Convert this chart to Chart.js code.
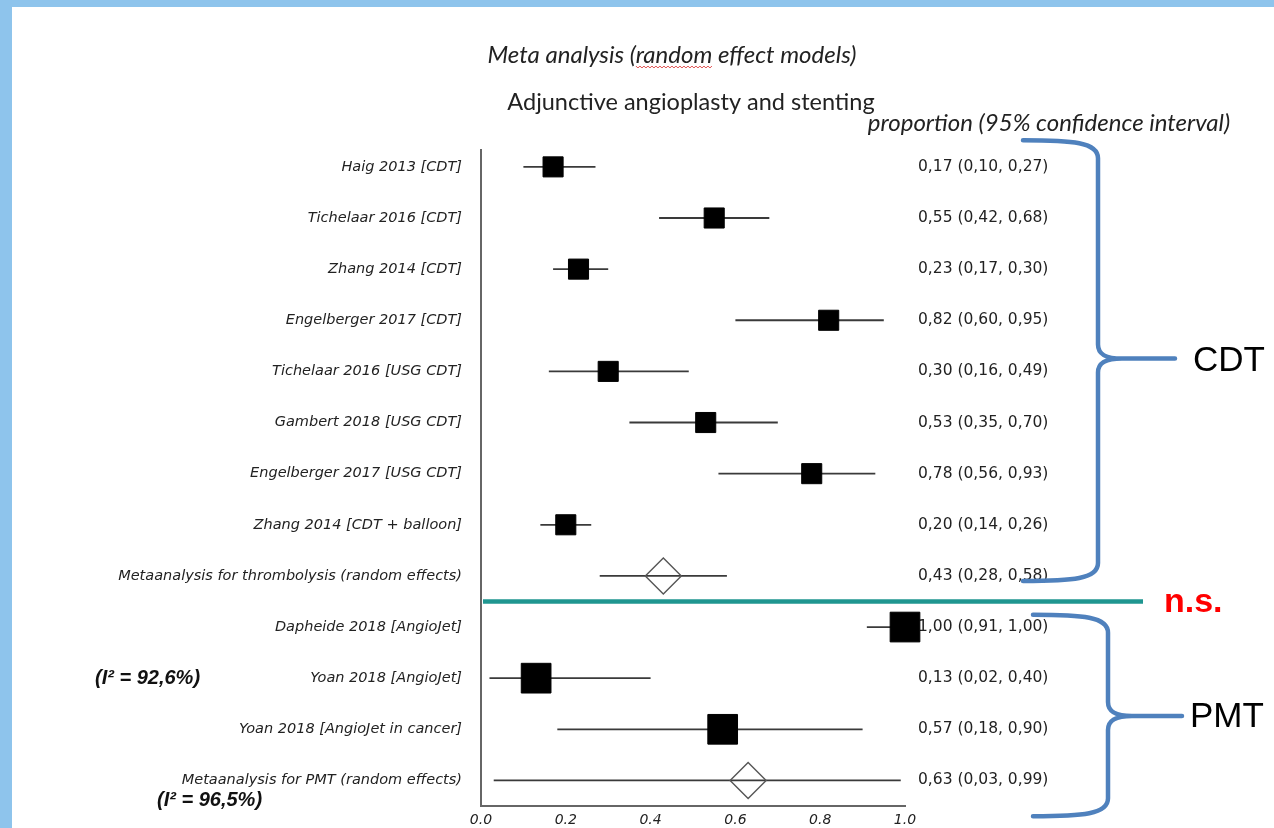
<!DOCTYPE html>
<html>
<head>
<meta charset="utf-8">
<script src="https://cdn.jsdelivr.net/npm/chart.js@4/dist/chart.umd.min.js"></script>
<style>
  html, body { margin: 0; padding: 0; background: #fff; }
  canvas { display: block; }
</style>
</head>
<body>
<canvas id="forest" width="1274" height="828"></canvas>
<script>
// Study rows, top to bottom
const studies = [
  'Haig 2013 [CDT]',
  'Tichelaar 2016 [CDT]',
  'Zhang 2014 [CDT]',
  'Engelberger 2017 [CDT]',
  'Tichelaar 2016 [USG CDT]',
  'Gambert 2018 [USG CDT]',
  'Engelberger 2017 [USG CDT]',
  'Zhang 2014 [CDT + balloon]',
  'Metaanalysis for thrombolysis (random effects)',
  'Dapheide 2018 [AngioJet]',
  'Yoan 2018 [AngioJet]',
  'Yoan 2018 [AngioJet in cancer]',
  'Metaanalysis for PMT (random effects)'
];
// Proportion with 95% confidence interval
const estimates = [0.17, 0.55, 0.23, 0.82, 0.30, 0.53, 0.78, 0.20, 0.43, 1.00, 0.13, 0.57, 0.63];
const lowerCI   = [0.10, 0.42, 0.17, 0.60, 0.16, 0.35, 0.56, 0.14, 0.28, 0.91, 0.02, 0.18, 0.03];
const upperCI   = [0.27, 0.68, 0.30, 0.95, 0.49, 0.70, 0.93, 0.26, 0.58, 1.00, 0.40, 0.90, 0.99];
// Pooled (random effects) rows are drawn as diamonds
const pooled = [false, false, false, false, false, false, false, false, true, false, false, false, true];
const groups = ['CDT', 'CDT', 'CDT', 'CDT', 'CDT', 'CDT', 'CDT', 'CDT', 'CDT', 'PMT', 'PMT', 'PMT', 'PMT'];
const xTicks = [0.0, 0.2, 0.4, 0.6, 0.8, 1.0];
const heterogeneity = ['(I\u00B2 = 92,6%)', '(I\u00B2 = 96,5%)'];

const rows = studies.map((_, i) => i);
const fmt = v => v.toFixed(2).replace('.', ',');
const valueLabels = rows.map(i => `${fmt(estimates[i])} (${fmt(lowerCI[i])}, ${fmt(upperCI[i])})`);

const ciDatasets = rows.map(i => ({
  type: 'scatter',
  data: [{ x: lowerCI[i], y: i }, { x: upperCI[i], y: i }],
  showLine: true,
  borderColor: '#3a3a3a',
  borderWidth: 1.8,
  pointRadius: 0,
  order: 2,
  yAxisID: 'y'
}));

const markerDataset = {
  type: 'scatter',
  data: rows.map(i => ({ x: estimates[i], y: i })),
  pointStyle: rows.map(i => pooled[i] ? 'rectRot' : 'rect'),
  pointRadius: rows.map(i => pooled[i] ? 18 : (groups[i] === 'PMT' ? 21 : 14.2)),
  pointBackgroundColor: rows.map(i => pooled[i] ? 'rgba(0,0,0,0)' : '#000'),
  pointBorderColor: rows.map(i => pooled[i] ? '#555' : '#000'),
  pointBorderWidth: rows.map(i => pooled[i] ? 1.4 : 1),
  showLine: false,
  clip: false,
  order: 1,
  yAxisID: 'y'
};

function drawBrace(ctx, y, b) {
  const top = y.getPixelForValue(b.top);
  const tip = y.getPixelForValue(b.tip);
  const bottom = y.getPixelForValue(b.bottom);
  const s = b.stemX;
  ctx.beginPath();
  ctx.moveTo(b.endX, top);
  ctx.bezierCurveTo(b.endX + 50, top, s, top + 2, s, top + 18);
  ctx.lineTo(s, tip - 14);
  ctx.bezierCurveTo(s, tip - 4, s + 8, tip, s + 24, tip);
  ctx.lineTo(b.tipX, tip);
  ctx.moveTo(s + 24, tip);
  ctx.bezierCurveTo(s + 8, tip, s, tip + 4, s, tip + 14);
  ctx.lineTo(s, bottom - 18);
  ctx.bezierCurveTo(s, bottom - 2, b.endX + 50, bottom, b.endX, bottom);
  ctx.stroke();
}

const decor = {
  id: 'decor',
  beforeDraw(chart) {
    const ctx = chart.ctx;
    ctx.save();
    ctx.fillStyle = '#8ec4ec';
    ctx.fillRect(0, 0, chart.width, chart.height);
    ctx.fillStyle = '#ffffff';
    ctx.fillRect(12, 7, chart.width - 12, chart.height - 7);
    ctx.restore();
  },
  afterDraw(chart) {
    const ctx = chart.ctx;
    const x = chart.scales.x;
    const y = chart.scales.y;
    ctx.save();

    // Headings
    ctx.fillStyle = '#222';
    ctx.textBaseline = 'middle';
    ctx.textAlign = 'center';
    ctx.font = 'italic 24px Lato';
    const title = 'Meta analysis (random effect models)';
    ctx.fillText(title, 672, 55);
    // red spell-check squiggle under "random"
    const tw = ctx.measureText(title).width;
    const sx = 672 - tw / 2 + ctx.measureText('Meta analysis (').width;
    const sw = ctx.measureText('random').width;
    ctx.strokeStyle = '#e05050';
    ctx.lineWidth = 1;
    ctx.beginPath();
    for (let px = 0; px <= sw; px += 2) {
      const py = 67 + ((px / 2) % 2 === 0 ? -1 : 1);
      if (px === 0) ctx.moveTo(sx + px, py); else ctx.lineTo(sx + px, py);
    }
    ctx.stroke();

    ctx.font = '23.5px Lato';
    ctx.fillText('Adjunctive angioplasty and stenting', 691, 102);
    ctx.font = 'italic 24px Lato';
    ctx.fillText('proportion (95% confidence interval)', 1049, 123);

    // Divider between thrombolysis and PMT blocks
    const yd = y.getPixelForValue(8.5);
    ctx.strokeStyle = '#1f9690';
    ctx.lineWidth = 4.5;
    ctx.beginPath();
    ctx.moveTo(x.getPixelForValue(0) + 2, yd);
    ctx.lineTo(1143, yd);
    ctx.stroke();

    // Group braces
    ctx.strokeStyle = '#4f81bd';
    ctx.lineWidth = 4.5;
    ctx.lineCap = 'round';
    ctx.lineJoin = 'round';
    drawBrace(ctx, y, { top: -0.52, tip: 3.75, bottom: 8.1, endX: 1023, stemX: 1098, tipX: 1175 });
    drawBrace(ctx, y, { top: 8.76, tip: 10.74, bottom: 12.7, endX: 1033, stemX: 1108, tipX: 1182 });

    ctx.fillStyle = '#000';
    ctx.textAlign = 'left';
    ctx.font = '35px "Liberation Sans"';
    ctx.fillText('CDT', 1193, y.getPixelForValue(3.8));
    ctx.fillText('PMT', 1190, y.getPixelForValue(10.76));

    ctx.fillStyle = '#ff0000';
    ctx.font = 'bold 34px "Liberation Sans"';
    ctx.fillText('n.s.', 1164, yd + 1);

    // Heterogeneity
    ctx.fillStyle = '#111';
    ctx.font = 'italic bold 20px "Liberation Sans"';
    ctx.fillText(heterogeneity[0], 95, y.getPixelForValue(10));
    ctx.fillText(heterogeneity[1], 157, 800);

    ctx.restore();
  }
};

const rowScale = (pos, width, extra) => Object.assign({
  type: 'linear',
  position: pos,
  reverse: true,
  min: -0.33,
  max: 12.5,
  afterBuildTicks: s => { s.ticks = rows.map(v => ({ value: v })); },
  afterFit: s => { s.width = width; s.paddingTop = 0; s.paddingBottom = 0; },
  grid: { display: false, drawTicks: false }
}, extra);

new Chart(document.getElementById('forest'), {
  type: 'scatter',
  data: { datasets: [markerDataset, ...ciDatasets] },
  plugins: [decor],
  options: {
    responsive: false,
    animation: false,
    devicePixelRatio: 1,
    layout: { padding: { top: 150, left: 0, right: 0, bottom: 0 } },
    plugins: { legend: { display: false }, tooltip: { enabled: false }, title: { display: false } },
    scales: {
      x: {
        type: 'linear',
        position: 'bottom',
        min: 0,
        max: 1,
        afterBuildTicks: s => { s.ticks = xTicks.map(v => ({ value: v })); },
        afterFit: s => { s.height = 22; s.paddingLeft = 0; s.paddingRight = 0; },
        ticks: {
          callback: v => v.toFixed(1),
          font: { family: 'DejaVu Sans', size: 14, style: 'italic' },
          color: '#222',
          padding: 6,
          maxRotation: 0,
          autoSkip: false
        },
        grid: { display: false, drawTicks: false },
        border: { color: '#666', width: 2 }
      },
      y: rowScale('left', 481, {
        ticks: {
          callback: v => studies[v],
          font: { family: 'DejaVu Sans', size: 14.5, style: 'italic' },
          color: '#222',
          padding: 19,
          autoSkip: false
        },
        border: { color: '#666', width: 2 }
      }),
      y2: rowScale('right', 369, {
        ticks: {
          callback: v => valueLabels[v],
          font: { family: 'DejaVu Sans', size: 15.5 },
          color: '#222',
          padding: 13,
          autoSkip: false
        },
        border: { display: false }
      })
    }
  }
});
</script>
</body>
</html>
